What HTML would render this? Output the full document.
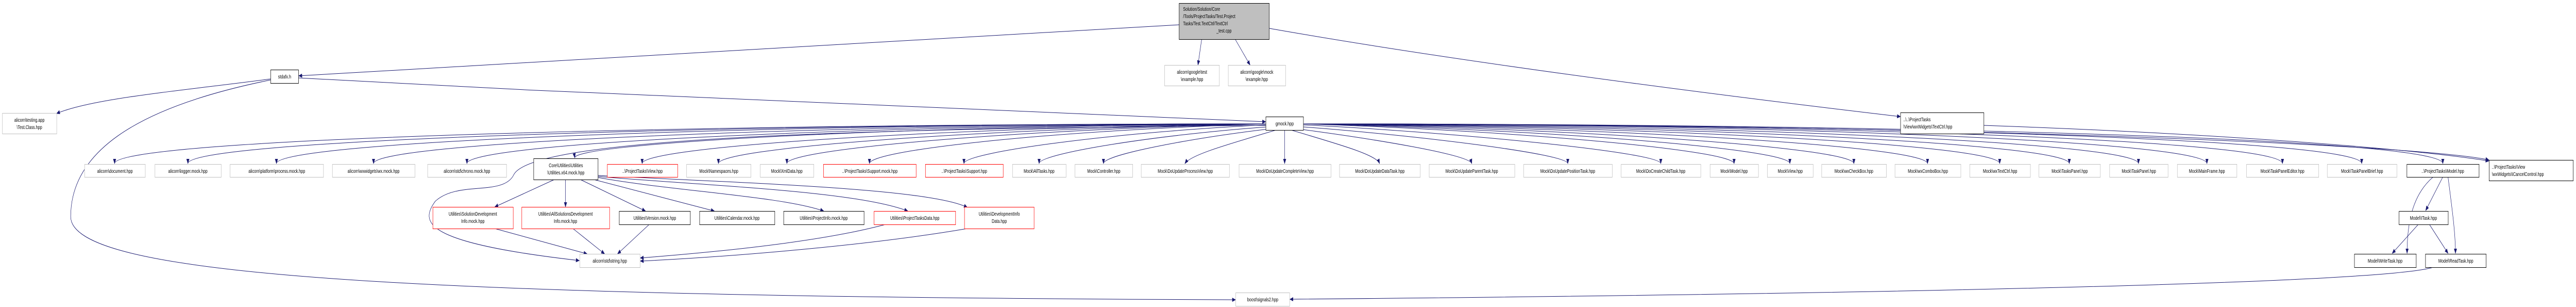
<!DOCTYPE html>
<html><head><meta charset="utf-8"><style>
html,body{margin:0;padding:0;background:#fff;overflow:hidden;width:100vw;height:100vh;}
svg{display:block;width:100vw;height:100vh;}
text{font-family:"Liberation Sans",sans-serif;font-size:10px;fill:#000;}
.l{fill:#fff;stroke:#bfbfbf;stroke-width:1;}
.d{fill:#fff;stroke:#000;stroke-width:1;}
.r{fill:#fff;stroke:#ff0000;stroke-width:1;}
.g{fill:#bfbfbf;stroke:#000;stroke-width:1;}
.e{fill:none;stroke:#191970;stroke-width:1;marker-end:url(#a);}
</style></head><body>
<svg viewBox="0 0 6924 595" preserveAspectRatio="none" xmlns="http://www.w3.org/2000/svg">
<defs><marker id="a" markerUnits="userSpaceOnUse" markerWidth="10" markerHeight="8" refX="9" refY="4" orient="auto"><path d="M0,0 L10,4 L0,8 z" fill="#191970"/></marker></defs>
<g>
<path class="e" d="M3169,48 C2000,90 1200,130 803,147"/>
<path class="e" d="M3230,76 L3220,126"/>
<path class="e" d="M3320,76 L3360,126"/>
<path class="e" d="M3412,55 C4000,130 4800,200 5108,226"/>
<path class="e" d="M802,151 C1800,190 3000,230 3402,236"/>
<path class="e" d="M727,153 C500,175 250,190 152,220"/>
<path class="e" d="M727,155 C350,210 190,300 190,420 C190,530 1000,575 3321,581"/>
<path class="e" d="M6540,518 C6400,550 5000,570 3467,580"/>
<path class="e" d="M5332,243 C6000,260 6500,290 6690,312"/>
<path class="e" d="M3402,243 C2200,250 1420,270 1380,340 C1350,380 1230,350 1170,390 C1130,430 1130,470 1557,505"/>
<path class="e" d="M3402,240 C1800,240 308,270 308,317"/>
<path class="e" d="M3402,240 C1900,240 505,272 505,317"/>
<path class="e" d="M3402,240 C2000,240 743,275 743,317"/>
<path class="e" d="M3402,240 C2100,242 1004,278 1004,317"/>
<path class="e" d="M3402,240 C2200,244 1255,280 1255,317"/>
<path class="e" d="M3402,240 C2300,246 1540,280 1545,306"/>
<path class="e" d="M3402,240 C2500,248 1726,285 1726,317"/>
<path class="e" d="M3402,240 C2600,250 1931,288 1931,317"/>
<path class="e" d="M3402,240 C2700,252 2115,290 2115,317"/>
<path class="e" d="M3402,240 C2800,254 2337,292 2337,317"/>
<path class="e" d="M3402,242 C3000,256 2591,295 2591,317"/>
<path class="e" d="M3405,246 C3100,262 2793,298 2793,317"/>
<path class="e" d="M3410,250 C3200,268 2966,300 2966,317"/>
<path class="e" d="M3430,252 C3300,280 3200,300 3185,317"/>
<path class="e" d="M3453,252 L3453,317"/>
<path class="e" d="M3470,252 C3600,280 3700,300 3708,317"/>
<path class="e" d="M3490,250 C3700,270 3950,300 3956,317"/>
<path class="e" d="M3503,246 C3800,262 4214,298 4214,317"/>
<path class="e" d="M3503,242 C3900,256 4464,295 4464,317"/>
<path class="e" d="M3503,240 C4100,254 4661,292 4661,317"/>
<path class="e" d="M3503,240 C4200,252 4811,290 4811,317"/>
<path class="e" d="M3503,240 C4300,250 4983,288 4983,317"/>
<path class="e" d="M3503,240 C4400,248 5181,285 5181,317"/>
<path class="e" d="M3503,240 C4500,246 5375,282 5375,317"/>
<path class="e" d="M3503,240 C4600,244 5562,280 5562,317"/>
<path class="e" d="M3503,240 C4700,242 5748,278 5748,317"/>
<path class="e" d="M3503,240 C4800,240 5932,275 5932,317"/>
<path class="e" d="M3503,240 C4900,240 6135,272 6135,317"/>
<path class="e" d="M3503,240 C5000,240 6348,270 6348,317"/>
<path class="e" d="M3503,240 C5100,240 6566,268 6566,317"/>
<path class="e" d="M3503,240 C5200,240 6500,280 6690,310"/>
<path class="e" d="M1490,348 L1330,401"/>
<path class="e" d="M1520,348 L1520,401"/>
<path class="e" d="M1560,348 L1735,409"/>
<path class="e" d="M1580,345 L1920,409"/>
<path class="e" d="M1600,343 C1800,370 2100,380 2214,409"/>
<path class="e" d="M1607,342 C1900,360 2300,370 2440,409"/>
<path class="e" d="M1607,340 C2000,355 2500,365 2600,402"/>
<path class="e" d="M1330,443 L1578,492"/>
<path class="e" d="M1540,443 L1625,492"/>
<path class="e" d="M1745,435 L1660,492"/>
<path class="e" d="M2380,435 C2200,470 1900,490 1721,500"/>
<path class="e" d="M2600,443 C2300,480 1900,500 1721,506"/>
<path class="e" d="M6566,343 L6520,408"/>
<path class="e" d="M6540,343 C6480,380 6470,440 6470,491"/>
<path class="e" d="M6580,343 C6590,400 6600,450 6600,491"/>
<path class="e" d="M6500,435 L6430,491"/>
<path class="e" d="M6530,435 L6580,491"/>
</g>
<g>
<rect class="g" x="3169.5" y="6.5" width="242" height="70"/>
<text x="3180" y="21">Solution/Solution/Core</text>
<text x="3180" y="35">/Tools/ProjectTasks/Test.Project</text>
<text x="3180" y="49">Tasks/Test.TextCtrl/TextCtrl</text>
<text x="3290" y="63" text-anchor="middle">_test.cpp</text>

<rect class="l" x="3130.5" y="126.5" width="147" height="40"/>
<text x="3204" y="143" text-anchor="middle">alicorn\google\test</text>
<text x="3204" y="157" text-anchor="middle">\example.hpp</text>
<rect class="l" x="3301.5" y="126.5" width="154" height="40"/>
<text x="3378" y="143" text-anchor="middle">alicorn\google\mock</text>
<text x="3378" y="157" text-anchor="middle">\example.hpp</text>

<rect class="d" x="727.5" y="135.5" width="75" height="26"/>
<text x="765" y="152" text-anchor="middle">stdafx.h</text>
<rect class="l" x="6.5" y="219.5" width="146" height="40"/>
<text x="79" y="236" text-anchor="middle">alicorn\testing.app</text>
<text x="79" y="250" text-anchor="middle">\Test.Class.hpp</text>

<rect class="d" x="3402.5" y="226.5" width="101" height="26"/>
<text x="3453" y="243" text-anchor="middle">gmock.hpp</text>

<rect class="d" x="5108.5" y="218.5" width="224" height="41"/>
<text x="5116" y="235">..\..\ProjectTasks</text>
<text x="5116" y="249">\View\wxWidgets\TextCtrl.hpp</text>

<rect class="l" x="227.5" y="318.5" width="163" height="25"/><text x="309" y="335" text-anchor="middle">alicorn\document.hpp</text>
<rect class="l" x="416.5" y="318.5" width="178" height="25"/><text x="505" y="335" text-anchor="middle">alicorn\logger.mock.hpp</text>
<rect class="l" x="618.5" y="318.5" width="251" height="25"/><text x="744" y="335" text-anchor="middle">alicorn\platform\process.mock.hpp</text>
<rect class="l" x="893.5" y="318.5" width="222" height="25"/><text x="1004" y="335" text-anchor="middle">alicorn\wxwidgets\wx.mock.hpp</text>
<rect class="l" x="1149.5" y="318.5" width="212" height="25"/><text x="1255" y="335" text-anchor="middle">alicorn\std\chrono.mock.hpp</text>
<rect class="d" x="1434.5" y="307.5" width="173" height="41"/><text x="1521" y="324" text-anchor="middle">Core\Utilities\Utilities</text><text x="1521" y="338" text-anchor="middle">\Utilities.x64.mock.hpp</text>
<rect class="r" x="1632.5" y="318.5" width="189" height="25"/><text x="1727" y="335" text-anchor="middle">..\ProjectTasks\View.hpp</text>
<rect class="l" x="1845.5" y="318.5" width="173" height="25"/><text x="1932" y="335" text-anchor="middle">Mock\Namespaces.hpp</text>
<rect class="l" x="2043.5" y="318.5" width="144" height="25"/><text x="2115" y="335" text-anchor="middle">Mock\XmlData.hpp</text>
<rect class="r" x="2213.5" y="318.5" width="249" height="25"/><text x="2338" y="335" text-anchor="middle">..\ProjectTasks\Support.mock.hpp</text>
<rect class="r" x="2487.5" y="318.5" width="209" height="25"/><text x="2592" y="335" text-anchor="middle">..\ProjectTasks\Support.hpp</text>
<rect class="l" x="2721.5" y="318.5" width="144" height="25"/><text x="2793" y="335" text-anchor="middle">Mock\AllTasks.hpp</text>
<rect class="l" x="2889.5" y="318.5" width="155" height="25"/><text x="2967" y="335" text-anchor="middle">Mock\Controller.hpp</text>
<rect class="l" x="3067.5" y="318.5" width="237" height="25"/><text x="3186" y="335" text-anchor="middle">Mock\DoUpdateProcessView.hpp</text>
<rect class="l" x="3330.5" y="318.5" width="247" height="25"/><text x="3454" y="335" text-anchor="middle">Mock\DoUpdateCompleteView.hpp</text>
<rect class="l" x="3600.5" y="318.5" width="217" height="25"/><text x="3709" y="335" text-anchor="middle">Mock\DoUpdateDataTask.hpp</text>
<rect class="l" x="3841.5" y="318.5" width="230" height="25"/><text x="3956" y="335" text-anchor="middle">Mock\DoUpdateParentTask.hpp</text>
<rect class="l" x="4095.5" y="318.5" width="238" height="25"/><text x="4214" y="335" text-anchor="middle">Mock\DoUpdatePositionTask.hpp</text>
<rect class="l" x="4357.5" y="318.5" width="214" height="25"/><text x="4464" y="335" text-anchor="middle">Mock\DoCreateChildTask.hpp</text>
<rect class="l" x="4596.5" y="318.5" width="130" height="25"/><text x="4661" y="335" text-anchor="middle">Mock\Model.hpp</text>
<rect class="l" x="4750.5" y="318.5" width="123" height="25"/><text x="4812" y="335" text-anchor="middle">Mock\View.hpp</text>
<rect class="l" x="4896.5" y="318.5" width="174" height="25"/><text x="4983" y="335" text-anchor="middle">Mock\wxCheckBox.hpp</text>
<rect class="l" x="5093.5" y="318.5" width="177" height="25"/><text x="5182" y="335" text-anchor="middle">Mock\wxComboBox.hpp</text>
<rect class="l" x="5294.5" y="318.5" width="163" height="25"/><text x="5376" y="335" text-anchor="middle">Mock\wxTextCtrl.hpp</text>
<rect class="l" x="5480.5" y="318.5" width="165" height="25"/><text x="5563" y="335" text-anchor="middle">Mock\TasksPanel.hpp</text>
<rect class="l" x="5670.5" y="318.5" width="157" height="25"/><text x="5749" y="335" text-anchor="middle">Mock\TaskPanel.hpp</text>
<rect class="l" x="5852.5" y="318.5" width="160" height="25"/><text x="5932" y="335" text-anchor="middle">Mock\MainFrame.hpp</text>
<rect class="l" x="6038.5" y="318.5" width="194" height="25"/><text x="6135" y="335" text-anchor="middle">Mock\TaskPanelEditor.hpp</text>
<rect class="l" x="6255.5" y="318.5" width="187" height="25"/><text x="6349" y="335" text-anchor="middle">Mock\TaskPanelBrief.hpp</text>
<rect class="d" x="6469.5" y="318.5" width="194" height="25"/><text x="6566" y="335" text-anchor="middle">..\ProjectTasks\Model.hpp</text>
<rect class="d" x="6690.5" y="310.5" width="226" height="40"/><text x="6698" y="327">..\ProjectTasks\View</text><text x="6698" y="341">\wxWidgets\ICancelControl.hpp</text>

<rect class="r" x="1163.5" y="401.5" width="216" height="42"/><text x="1271" y="418" text-anchor="middle">Utilities\SolutionDevelopment</text><text x="1271" y="432" text-anchor="middle">Info.mock.hpp</text>
<rect class="r" x="1402.5" y="401.5" width="236" height="42"/><text x="1520" y="418" text-anchor="middle">Utilities\AllSolutionsDevelopment</text><text x="1520" y="432" text-anchor="middle">Info.mock.hpp</text>
<rect class="d" x="1664.5" y="409.5" width="191" height="26"/><text x="1760" y="426" text-anchor="middle">Utilities\Version.mock.hpp</text>
<rect class="d" x="1880.5" y="409.5" width="202" height="26"/><text x="1981" y="426" text-anchor="middle">Utilities\Calendar.mock.hpp</text>
<rect class="d" x="2106.5" y="409.5" width="216" height="26"/><text x="2214" y="426" text-anchor="middle">Utilities\ProjectInfo.mock.hpp</text>
<rect class="r" x="2349.5" y="409.5" width="219" height="26"/><text x="2459" y="426" text-anchor="middle">Utilities\ProjectTasksData.hpp</text>
<rect class="r" x="2592.5" y="401.5" width="187" height="42"/><text x="2686" y="418" text-anchor="middle">Utilities\DevelopmentInfo</text><text x="2686" y="432" text-anchor="middle">Data.hpp</text>
<rect class="d" x="6448.5" y="409.5" width="132" height="26"/><text x="6514" y="426" text-anchor="middle">Model\ITask.hpp</text>

<rect class="l" x="1558.5" y="492.5" width="162" height="26"/><text x="1639" y="509" text-anchor="middle">alicorn\std\string.hpp</text>
<rect class="d" x="6328.5" y="492.5" width="166" height="26"/><text x="6411" y="509" text-anchor="middle">Model\WriteTask.hpp</text>
<rect class="d" x="6519.5" y="492.5" width="163" height="26"/><text x="6601" y="509" text-anchor="middle">Model\ReadTask.hpp</text>

<rect class="l" x="3321.5" y="567.5" width="145" height="26"/><text x="3394" y="584" text-anchor="middle">boost\signals2.hpp</text>
</g>
</svg>
</body></html>
